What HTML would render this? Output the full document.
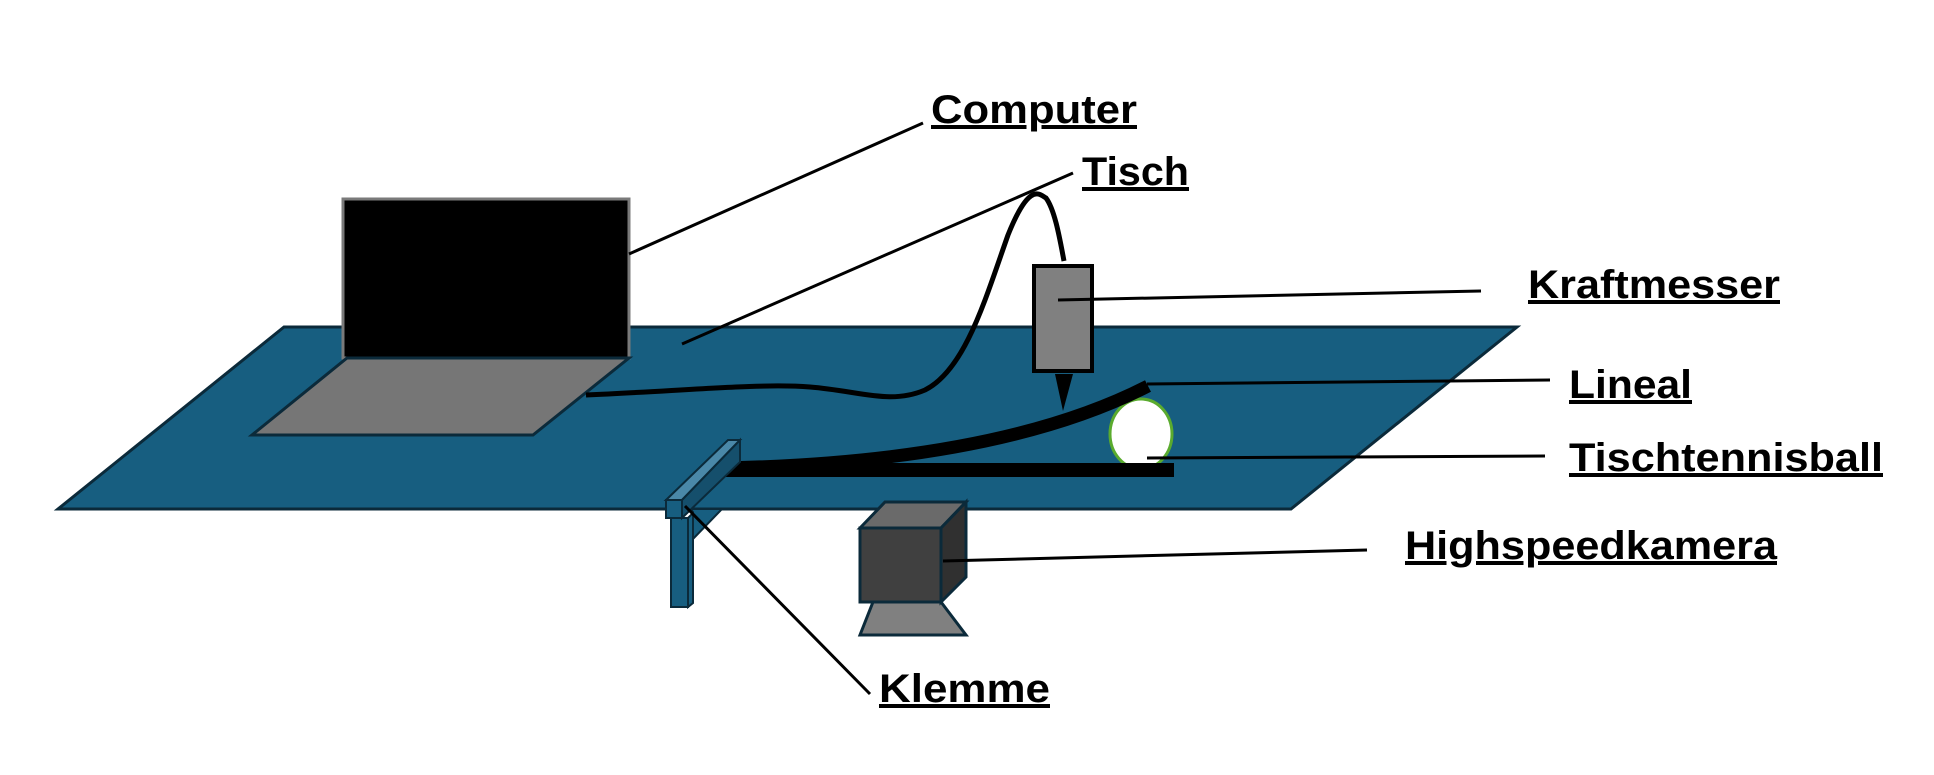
<!DOCTYPE html>
<html><head><meta charset="utf-8"><style>html,body{margin:0;padding:0;background:#fff}svg{display:block}</style></head>
<body>
<svg width="1934" height="775" viewBox="0 0 1934 775" xmlns="http://www.w3.org/2000/svg">
<!-- table -->
<polygon points="284,327 1517,327 1291,509 58,509" fill="#175e80" stroke="#0b2a3a" stroke-width="3"/>
<!-- laptop -->
<rect x="343" y="199" width="286" height="159" fill="#000" stroke="#7a7a7a" stroke-width="3"/>
<polygon points="347,358 629,358 533,435 252,435" fill="#767676" stroke="#0b2a3a" stroke-width="3"/>
<!-- cable -->
<path d="M586,395 C680,391 760,383 810,387 C860,391 890,405 925,390 C965,370 985,300 1008,235 C1030,180 1040,195 1046,198 C1055,210 1060,240 1064,261" fill="none" stroke="#000" stroke-width="5"/>
<!-- force meter -->
<rect x="1034" y="266" width="58" height="105" fill="#808080" stroke="#000" stroke-width="4"/>
<polygon points="1055,374 1073,374 1063,411" fill="#000"/>
<!-- ball -->
<ellipse cx="1141" cy="434" rx="31" ry="35" fill="#fff" stroke="#5aab2e" stroke-width="3"/>
<!-- ruler -->
<path d="M725,468 Q1000,462 1148,386" fill="none" stroke="#000" stroke-width="13"/>
<rect x="715" y="463" width="459" height="14" fill="#175e80"/>
<rect x="715" y="463" width="459" height="14" fill="#000"/>
<!-- clamp -->
<polygon points="692,509 722,509 692,540" fill="#175e80" stroke="#0b2a3a" stroke-width="2"/>
<rect x="671" y="518" width="17" height="89" fill="#175e80" stroke="#0b2a3a" stroke-width="2"/>
<polygon points="688,518 693,513 693,603 688,607" fill="#175e80" stroke="#0b2a3a" stroke-width="2"/>
<polygon points="666,500 728,440 740,440 682,500" fill="#4a88a8" stroke="#0b2a3a" stroke-width="2"/>
<polygon points="682,500 740,440 740,462 682,518" fill="#154f6c" stroke="#0b2a3a" stroke-width="2"/>
<rect x="666" y="500" width="16" height="18" fill="#175e80" stroke="#0b2a3a" stroke-width="2"/>
<!-- camera -->
<polygon points="873,602 941,602 966,635 860,635" fill="#808080" stroke="#0b2a3a" stroke-width="3"/>
<polygon points="860,528 885,502 966,502 941,528" fill="#6a6a6a" stroke="#0b2a3a" stroke-width="3"/>
<polygon points="941,528 966,502 966,577 941,602" fill="#303030" stroke="#0b2a3a" stroke-width="3"/>
<rect x="860" y="528" width="81" height="74" fill="#404040" stroke="#0b2a3a" stroke-width="3"/>
<!-- leaders -->
<g stroke="#000" stroke-width="3" fill="none">
<line x1="629" y1="254" x2="923" y2="123"/>
<line x1="682" y1="344" x2="1073" y2="173"/>
<line x1="1058" y1="300" x2="1481" y2="291"/>
<line x1="1147" y1="384" x2="1550" y2="380"/>
<line x1="1147" y1="458" x2="1545" y2="456"/>
<line x1="943" y1="561" x2="1367" y2="550"/>
<line x1="685" y1="506" x2="870" y2="694"/>
</g>
<!-- labels -->
<g font-family="Liberation Sans, sans-serif" font-weight="bold" font-size="40" fill="#000" text-decoration="underline">
<text x="931" y="123" textLength="206" lengthAdjust="spacingAndGlyphs">Computer</text>
<text x="1082" y="185" textLength="107" lengthAdjust="spacingAndGlyphs">Tisch</text>
<text x="1528" y="298" textLength="252" lengthAdjust="spacingAndGlyphs">Kraftmesser</text>
<text x="1569" y="398" textLength="123" lengthAdjust="spacingAndGlyphs">Lineal</text>
<text x="1569" y="471" textLength="314" lengthAdjust="spacingAndGlyphs">Tischtennisball</text>
<text x="1405" y="559" textLength="372" lengthAdjust="spacingAndGlyphs">Highspeedkamera</text>
<text x="879" y="702" textLength="171" lengthAdjust="spacingAndGlyphs">Klemme</text>
</g>
</svg>
</body></html>
